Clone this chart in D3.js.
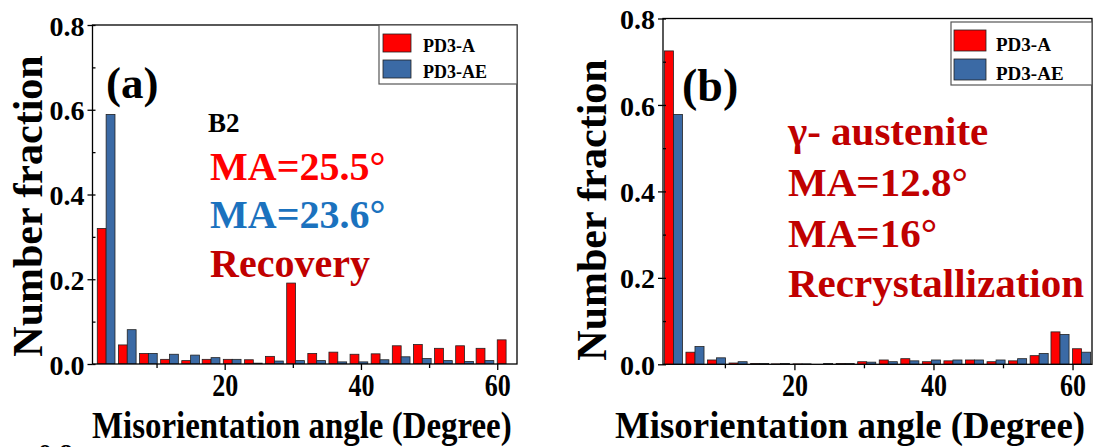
<!DOCTYPE html>
<html>
<head>
<meta charset="utf-8">
<script src="https://cdn.jsdelivr.net/npm/d3@7"></script>
<style>
  html, body { margin: 0; padding: 0; background: #fff; }
  svg { display: block; }
  svg text { font-family: "Liberation Serif", "DejaVu Serif", serif !important; font-weight: bold; }
</style>
</head>
<body>
<svg id="fig" width="1097" height="447" font-family="Liberation Serif"></svg>
<script>
// Bin positions (degrees): boundary between the two bars of each group
const angles = [2.6, 5.7, 8.8, 11.9, 15.0, 18.0, 21.1, 24.2, 27.3, 30.4,
                33.5, 36.6, 39.7, 42.8, 45.9, 49.0, 52.1, 55.2, 58.2, 61.3];

// (a) B2 phase
const b2A  = [0.320, 0.045, 0.025, 0.011, 0.008, 0.011, 0.011, 0.010, 0.018, 0.191,
              0.025, 0.028, 0.023, 0.024, 0.043, 0.046, 0.037, 0.043, 0.037, 0.057];
const b2AE = [0.589, 0.081, 0.025, 0.023, 0.021, 0.015, 0.011, 0.002, 0.007, 0.008,
              0.008, 0.005, 0.005, 0.010, 0.017, 0.013, 0.008, 0.006, 0.008, 0.000];

// (b) austenite
const gammaA  = [0.725, 0.028, 0.010, 0.003, 0.002, 0.001, 0.001, 0.000, 0.002, 0.006,
                 0.010, 0.013, 0.006, 0.008, 0.010, 0.006, 0.008, 0.020, 0.075, 0.036];
const gammaAE = [0.578, 0.041, 0.015, 0.006, 0.002, 0.002, 0.001, 0.002, 0.002, 0.005,
                 0.006, 0.008, 0.010, 0.010, 0.010, 0.010, 0.013, 0.025, 0.069, 0.028];

const seriesNames = ["PD3-A", "PD3-AE"];
const xMajorTicks = [20, 40, 60];
const xMinorTicks = [10, 30, 50];
const yMajorTicks = [0, 0.2, 0.4, 0.6, 0.8];
const yMinorTicks = [0.1, 0.3, 0.5, 0.7];
const xTitle = "Misorientation angle (Degree)";
const yTitle = "Number fraction";

const RED = "#ff0000", BLUE = "#3b6aa5";
const BAR_W = 1.3; // degrees
const FONT = "Liberation Serif, DejaVu Serif, serif";

const svg = d3.select("#fig");

function label(sel) {
  return sel.attr("font-family", FONT).attr("font-weight", "bold");
}

function drawPanel(p) {
  const g = svg.append("g");
  const x = d3.scaleLinear().domain(p.xDomain).range([p.left, p.right]);
  const y = d3.scaleLinear().domain([0, 0.8]).range([p.bottom, p.top]);

  const clipId = "clip-" + p.id;
  g.append("clipPath").attr("id", clipId)
    .append("rect").attr("x", p.left).attr("y", p.top)
    .attr("width", p.right - p.left).attr("height", p.bottom - p.top);

  const bars = g.append("g").attr("clip-path", `url(#${clipId})`);
  const rows = angles.map((a, i) => ({ a, r: p.red[i], b: p.blue[i] }));
  bars.selectAll("rect.r").data(rows).join("rect").attr("class", "r")
    .attr("x", d => x(d.a - BAR_W)).attr("width", d => x(d.a) - x(d.a - BAR_W))
    .attr("y", d => y(d.r)).attr("height", d => y(0) - y(d.r))
    .attr("fill", RED).attr("stroke", "#222").attr("stroke-width", 0.8);
  bars.selectAll("rect.b").data(rows).join("rect").attr("class", "b")
    .attr("x", d => x(d.a)).attr("width", d => x(d.a + BAR_W) - x(d.a))
    .attr("y", d => y(d.b)).attr("height", d => y(0) - y(d.b))
    .attr("fill", BLUE).attr("stroke", "#222").attr("stroke-width", 0.8);

  // frame
  g.append("rect").attr("x", p.left).attr("y", p.top)
    .attr("width", p.right - p.left).attr("height", p.bottom - p.top)
    .attr("fill", "none").attr("stroke", "#000").attr("stroke-width", 1.3);

  // x axis: labelled ticks every 20, short ticks in between
  const xa = g.append("g").attr("transform", `translate(0,${p.bottom})`)
    .call(d3.axisBottom(x).tickValues(xMajorTicks).tickSize(6).tickFormat(d3.format("d")));
  xa.attr("font-family", null).attr("font-size", null);
  xa.select(".domain").remove();
  xa.selectAll(".tick line").attr("stroke", "#000").attr("stroke-width", 1.3);
  label(xa.selectAll(".tick text")).attr("dy", null).attr("y", 32)
    .attr("fill", "#000").attr("font-size", 31)
    .attr("textLength", 26).attr("lengthAdjust", "spacingAndGlyphs");
  const xm = g.append("g").attr("transform", `translate(0,${p.bottom})`)
    .call(d3.axisBottom(x).tickValues(xMinorTicks).tickSize(4).tickFormat(""));
  xm.select(".domain").remove();
  xm.selectAll(".tick line").attr("stroke", "#000").attr("stroke-width", 1.3);

  // y axis
  const ya = g.append("g").attr("transform", `translate(${p.left},0)`)
    .call(d3.axisLeft(y).tickValues(yMajorTicks).tickSize(5).tickPadding(3).tickFormat(d3.format(".1f")));
  ya.attr("font-family", null).attr("font-size", null);
  ya.select(".domain").remove();
  ya.selectAll(".tick line").attr("stroke", "#000").attr("stroke-width", 1.3);
  label(ya.selectAll(".tick text")).attr("fill", "#000").attr("font-size", 28).attr("dy", "0.36em");
  const yin = g.append("g").attr("transform", `translate(${p.left},0)`)
    .call(d3.axisRight(y).tickValues(yMinorTicks.concat(yMajorTicks)).tickSize(3).tickFormat(""));
  yin.select(".domain").remove();
  yin.selectAll(".tick line").attr("stroke", "#000").attr("stroke-width", 1.3);

  // axis titles (x title is set in a narrowed face)
  label(g.append("text"))
    .attr("transform", `translate(${p.xTitleX},438) scale(${p.xTitleSx},1)`)
    .attr("font-size", 38).text(xTitle);
  label(g.append("text"))
    .attr("transform", `translate(${p.yTitleX},${p.yTitleY}) rotate(-90)`)
    .attr("text-anchor", "middle").attr("font-size", 42).text(yTitle);

  // legend
  const L = p.legend;
  g.append("rect").attr("x", L.x).attr("y", L.y).attr("width", L.w).attr("height", L.h)
    .attr("fill", "#fff").attr("stroke", "#555").attr("stroke-width", 1.2);
  [RED, BLUE].forEach((c, i) => {
    g.append("rect").attr("x", L.sx).attr("y", L.sy + i * L.step)
      .attr("width", L.sw).attr("height", L.sh)
      .attr("fill", c).attr("stroke", "#222").attr("stroke-width", 0.8);
    label(g.append("text")).attr("x", L.tx).attr("y", L.ty + i * L.step)
      .attr("font-size", L.fs).attr("fill", "#000").text(seriesNames[i]);
  });

  // panel label
  label(g.append("text")).attr("x", p.tag.x).attr("y", p.tag.y)
    .attr("font-size", p.tag.fs).attr("fill", "#000").text(p.tag.text);

  // annotations
  p.notes.forEach(n => {
    label(g.append("text")).attr("x", n.x).attr("y", n.y).attr("fill", n.color)
      .attr("font-size", n.fs).text(n.text);
  });
}

drawPanel({
  id: "a", red: b2A, blue: b2AE,
  xDomain: [0.6, 62.9], left: 92.5, right: 517, top: 25, bottom: 364,
  xTitleX: 92, xTitleSx: 0.866, yTitleX: 42, yTitleY: 206,
  legend: { x: 379, y: 25, w: 138, h: 59, sx: 383, sy: 34, sw: 28, sh: 18, step: 26,
            tx: 423, ty: 52, fs: 18 },
  tag: { x: 106, y: 98, fs: 45, text: "(a)" },
  notes: [
    { x: 208, y: 132, fs: 27, color: "#000", text: "B2" },
    { x: 210, y: 180, fs: 40, color: "#ff0000", text: "MA=25.5°" },
    { x: 210, y: 228, fs: 40, color: "#1b72be", text: "MA=23.6°" },
    { x: 210, y: 277, fs: 40, color: "#c00000", text: "Recovery" }
  ]
});

drawPanel({
  id: "b", red: gammaA, blue: gammaAE,
  xDomain: [1.1, 62.8], left: 663, right: 1092, top: 18.5, bottom: 364.3,
  xTitleX: 615, xTitleSx: 0.97, yTitleX: 606, yTitleY: 210,
  legend: { x: 951, y: 22, w: 141, h: 63, sx: 954, sy: 30, sw: 32, sh: 21, step: 29,
            tx: 996, ty: 51, fs: 19 },
  tag: { x: 682, y: 101, fs: 46, text: "(b)" },
  notes: [
    { x: 788, y: 145, fs: 41, color: "#c00000", text: "γ- austenite" },
    { x: 788, y: 196, fs: 41, color: "#c00000", text: "MA=12.8°" },
    { x: 788, y: 247, fs: 41, color: "#c00000", text: "MA=16°" },
    { x: 788, y: 297, fs: 41, color: "#c00000", text: "Recrystallization" }
  ]
});

// clipped tick label of the figure continuing below
label(svg.append("text")).attr("x", 38).attr("y", 463).attr("font-size", 28)
  .attr("fill", "#000").text("0.8");
</script>
</body>
</html>
